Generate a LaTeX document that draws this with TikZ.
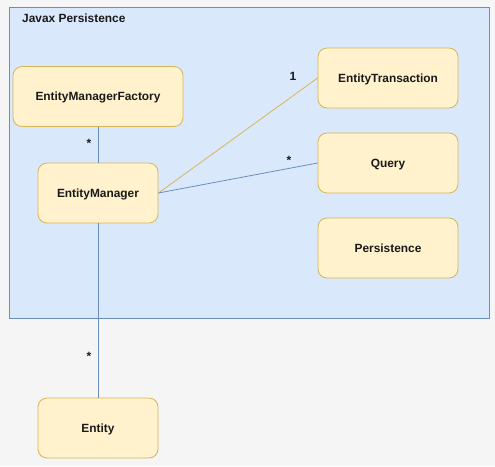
\documentclass[tikz,border=0pt]{standalone}
\usepackage{fontspec}
\setmainfont{Liberation Sans}
\definecolor{bgc}{HTML}{F5F5F5}
\definecolor{contfill}{HTML}{DAE8FC}
\definecolor{contdraw}{HTML}{6C8EBF}
\definecolor{boxfill}{HTML}{FFF2CC}
\definecolor{boxdraw}{HTML}{D6B656}
\definecolor{txt}{HTML}{1A1A1A}
\begin{document}
\begin{tikzpicture}[x=1pt,y=-1pt,
  cls/.style={draw=boxdraw,fill=boxfill,rounded corners=9pt,line width=0.8pt,
    font=\fontsize{11.9}{13}\selectfont\bfseries,text=txt,inner sep=0pt,
    text height=8.6pt,text depth=0pt},
  blueline/.style={draw=contdraw,line width=0.8pt},
  yelline/.style={draw=boxdraw,line width=0.8pt},
  mult/.style={font=\fontsize{12}{14}\selectfont\bfseries,text=txt,inner sep=0pt}]
\fill[bgc] (0,0) rectangle (495,466);
\useasboundingbox (0,0) rectangle (495,466);
\node[draw=contdraw,fill=contfill,line width=0.8pt,minimum width=480pt,minimum height=311pt,anchor=north west,inner sep=0pt] (cont) at (8.5,6.5) {};
\node[anchor=west,font=\fontsize{11.9}{13}\selectfont\bfseries,text=txt,inner sep=0pt] (title) at (22,18.5) {Javax Persistence};
\node[cls,minimum width=170pt,minimum height=60pt] (emf) at (98,96.5) {EntityManagerFactory};
\node[cls,minimum width=120pt,minimum height=60pt] (em) at (98,193) {EntityManager};
\node[cls,minimum width=140pt,minimum height=60pt] (et) at (388,78) {EntityTransaction};
\node[cls,minimum width=140pt,minimum height=60pt] (q) at (388,163) {Query};
\node[cls,minimum width=140pt,minimum height=60pt] (p) at (388,248) {Persistence};
\node[cls,minimum width=120pt,minimum height=60pt] (ent) at (98,428) {Entity};
\draw[blueline] (emf.south) -- (em.north);
\draw[blueline] (em.south) -- (ent.north);
\draw[yelline] (em.east) -- (et.west);
\draw[blueline] (em.east) -- (q.west);
\node[mult] (m1) at (89,143) {*};
\node[mult] (m2) at (293,76.5) {1};
\node[mult] (m3) at (289,160) {*};
\node[mult] (m4) at (89,356) {*};
\end{tikzpicture}
\end{document}
